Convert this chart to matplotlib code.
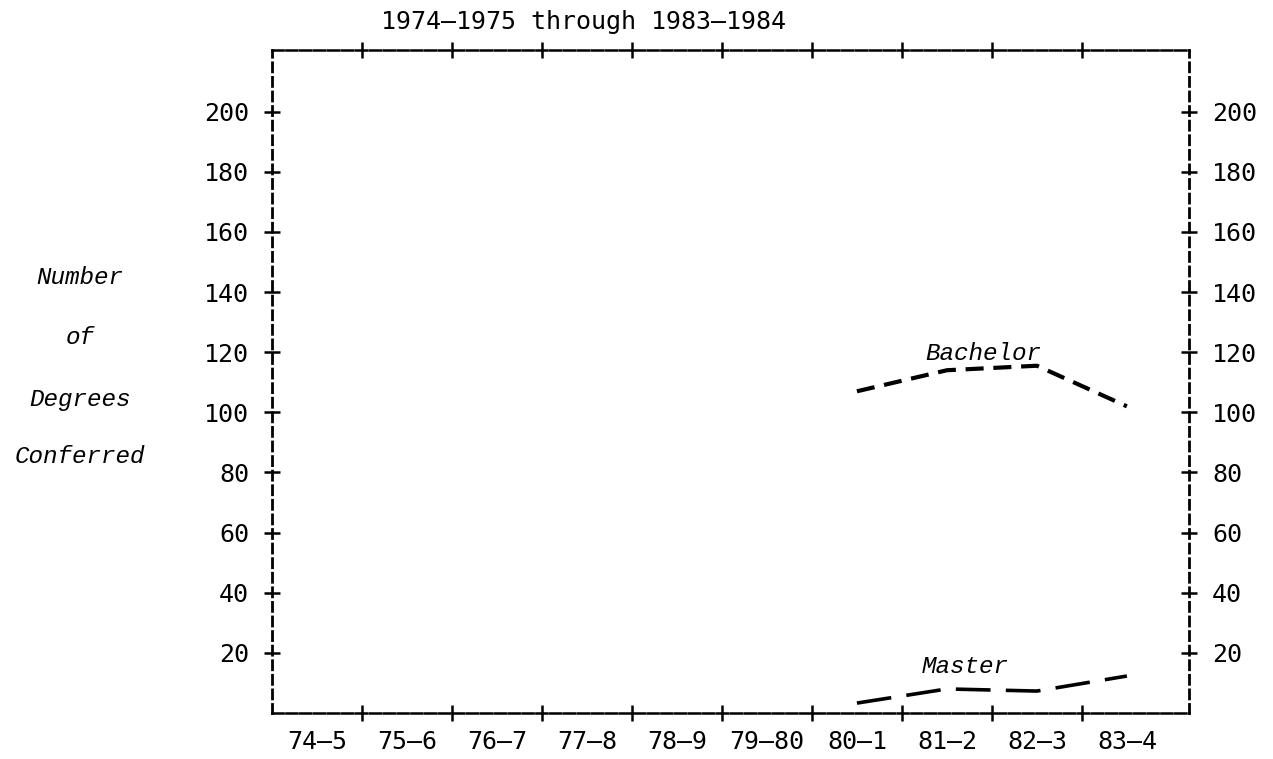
import numpy as np
import matplotlib
matplotlib.use("Agg")
import matplotlib.pyplot as plt
from matplotlib.ticker import FixedLocator, NullFormatter, FixedFormatter

plt.rcParams['lines.scale_dashes'] = False

# data
years = ["74\u20135", "75\u20136", "76\u20137", "77\u20138", "78\u20139",
         "79\u201380", "80\u20131", "81\u20132", "82\u20133", "83\u20134"]
y_ticks = [20, 40, 60, 80, 100, 120, 140, 160, 180, 200]
bachelor_years = ["80\u20131", "81\u20132", "82\u20133", "83\u20134"]
bachelor = [107, 114, 115.5, 102]
master_years = ["80\u20131", "81\u20132", "82\u20133", "83\u20134"]
master = [3.3, 8, 7.3, 12.3]

pos = {y: i + 0.5 for i, y in enumerate(years)}

mono = "DejaVu Sans Mono"
typew = "Liberation Mono"

fig = plt.figure(figsize=(12.73, 7.59), dpi=100)
ax = fig.add_axes([0.2137, 0.0606, 0.7203, 0.8735])

ax.plot([pos[y] for y in bachelor_years], bachelor, color='black', lw=3.0,
        dashes=(13, 7), dash_capstyle='butt')
ax.plot([pos[y] for y in master_years], master, color='black', lw=2.6,
        dashes=(25, 11), dash_capstyle='butt')

ax.text(7.9, 119.5, "Bachelor", family=typew, style='italic', fontsize=17.5,
        ha='center', va='center')
ax.text(7.7, 15.5, "Master", family=typew, style='italic', fontsize=17.5,
        ha='center', va='center')

ax.set_xlim(0, 10.19)
ax.set_ylim(0, 220.5)

# ticks: "+" marks on the frame
ax.xaxis.set_major_locator(FixedLocator(np.arange(1, len(years))))
ax.xaxis.set_major_formatter(NullFormatter())
ax.xaxis.set_minor_locator(FixedLocator([pos[y] for y in years]))
ax.xaxis.set_minor_formatter(FixedFormatter(years))
ax.tick_params(axis='x', which='major', direction='inout', length=11, width=1.8,
               top=True, bottom=True)
ax.tick_params(axis='x', which='minor', length=0, pad=12, labelsize=18)

ax.set_yticks(y_ticks)
ax.set_yticklabels([str(v) for v in y_ticks])
ax.tick_params(axis='y', which='major', direction='inout', length=11, width=1.8,
               left=True, right=True, labelleft=True, labelright=True,
               labelsize=18, pad=11)

for lab in ax.get_xticklabels(minor=True):
    lab.set_family(mono)
for t in ax.yaxis.get_major_ticks():
    t.label1.set_family(mono)
    t.label2.set_family(mono)

for side in ['top', 'bottom']:
    ax.spines[side].set_linestyle((0, (8, 2)))
    ax.spines[side].set_linewidth(1.8)
for side in ['left', 'right']:
    ax.spines[side].set_linestyle((0, (6.5, 4)))
    ax.spines[side].set_linewidth(2.0)

fig.text(0.458, 0.971, "1974\u20131975 through 1983\u20131984", family=mono,
         fontsize=18, ha='center', va='center')

for word, yy in zip(["Number", "of", "Degrees", "Conferred"],
                    [0.634, 0.555, 0.473, 0.398]):
    fig.text(0.063, yy, word, family=typew, style='italic', fontsize=17.5,
             ha='center', va='center')

fig.savefig("out.png", dpi=100)
